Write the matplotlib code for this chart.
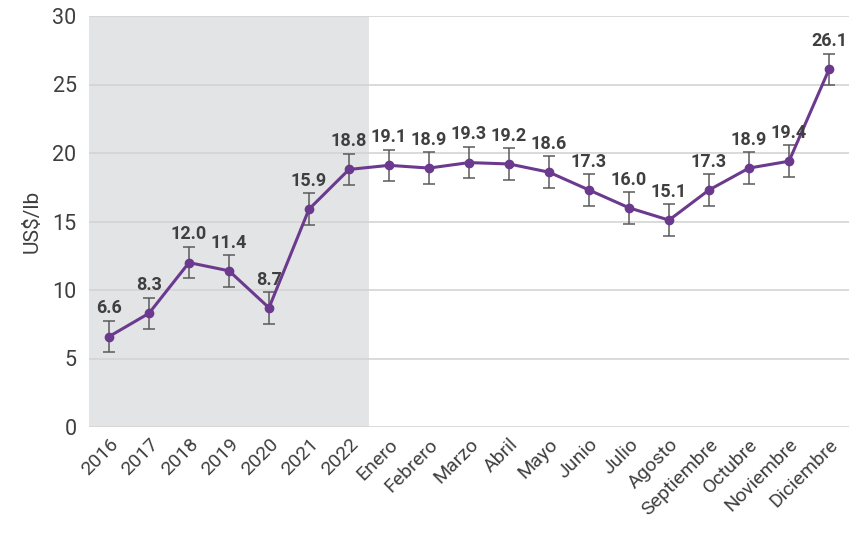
import matplotlib
matplotlib.use("Agg")
import matplotlib.pyplot as plt
from matplotlib.transforms import ScaledTranslation

categories = ["2016", "2017", "2018", "2019", "2020", "2021", "2022",
              "Enero", "Febrero", "Marzo", "Abril", "Mayo", "Junio", "Julio",
              "Agosto", "Septiembre", "Octubre", "Noviembre", "Diciembre"]
values = [6.6, 8.3, 12.0, 11.4, 8.7, 15.9, 18.8,
          19.1, 18.9, 19.3, 19.2, 18.6, 17.3, 16.0,
          15.1, 17.3, 18.9, 19.4, 26.1]
errors = [1.15, 1.15, 1.15, 1.15, 1.15, 1.15, 1.15,
          1.15, 1.15, 1.15, 1.15, 1.15, 1.15, 1.15,
          1.15, 1.15, 1.15, 1.15, 1.15]
yticks = [0, 5, 10, 15, 20, 25, 30]
annual_count = 7

plt.rcParams['font.family'] = ['Roboto', 'DejaVu Sans']
txt = "#3f3f3f"

fig = plt.figure(figsize=(8.5, 5.36), dpi=100)
ax = fig.add_axes([89/850, 1 - 427/536, 760/850, 411/536])

x = list(range(len(categories)))
ax.axvspan(-0.5, annual_count - 0.5, color="#e3e4e6", zorder=0, lw=0)
for t in yticks:
    ax.axhline(t, color="#d4d4d4", lw=1.2, zorder=1)

ax.errorbar(x, values, yerr=errors, fmt="none", ecolor="#5a5a5a",
            elinewidth=1.1, capsize=4, capthick=1.1, zorder=2)
ax.plot(x, values, color="#6b3a8f", lw=2.2, marker="o", ms=6, zorder=3)

for xi, v, e in zip(x, values, errors):
    ax.annotate(f"{v:.1f}", (xi, v + e), xytext=(0, 2.5), textcoords="offset points",
                ha="center", va="bottom", fontsize=13, fontweight="bold",
                color=txt, zorder=4)

ax.set_xlim(-0.5, len(categories) - 0.5)
ax.set_ylim(0, 30)
ax.set_yticks(yticks)
ax.set_yticklabels([str(t) for t in yticks], fontsize=15.5, color=txt)
ax.set_xticks(x)
ax.set_xticklabels(categories, rotation=45, ha="right", rotation_mode="anchor",
                   fontsize=14, color=txt)
offset = ScaledTranslation(14/100, -4/100, fig.dpi_scale_trans)
for lab in ax.get_xticklabels():
    lab.set_transform(lab.get_transform() + offset)
ax.tick_params(axis="y", length=0, pad=9)
ax.tick_params(axis="x", length=0, pad=6)
for s in ax.spines.values():
    s.set_visible(False)
ax.set_ylabel("US$/lb", fontsize=15, color=txt, labelpad=8)

fig.savefig("out.png", dpi=100)
